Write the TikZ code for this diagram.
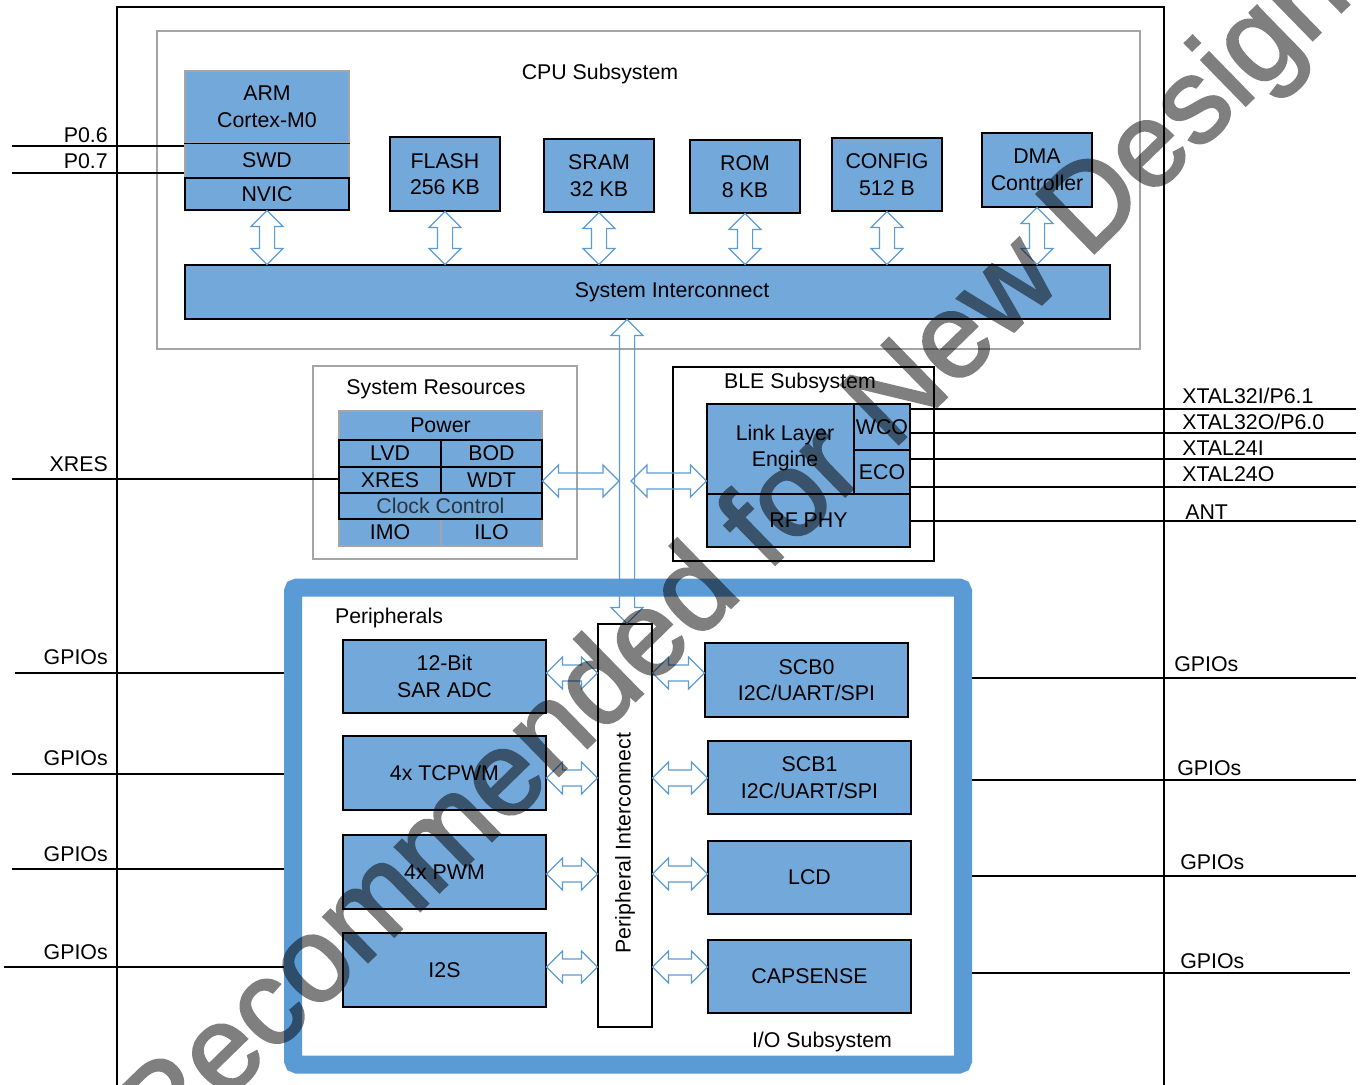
\documentclass[tikz,border=0pt]{standalone}
\usepackage{fontspec}
\setmainfont{Liberation Sans}
\newfontfamily\wmfont{Liberation Sans}[FakeBold=2]
\usetikzlibrary{fit,calc}
\definecolor{blkfill}{RGB}{115,168,218}
\definecolor{iofr}{RGB}{91,155,213}
\definecolor{arrc}{RGB}{91,155,213}
\definecolor{gbox}{RGB}{165,165,165}
\definecolor{dimtext}{RGB}{40,52,64}
\tikzset{
 lbl/.style={font=\fontsize{16}{20}\selectfont, align=center, inner sep=0},
 blkbox/.style={draw=black, line width=0.8pt, fill=blkfill, inner sep=0, font=\fontsize{16}{20}\selectfont, align=center},
 grpbox/.style={draw=gbox, line width=0.8pt, inner sep=0},
 wire/.style={draw=black, line width=0.9pt},
 hollowarr/.style={draw=arrc, line width=0.9pt, line join=miter},
}
% box from pixel corners (x1,y1)-(x2,y2)
\newcommand\bx[7]{\node[#1, minimum width={(#4-#2)*0.75pt}, minimum height={(#5-#3)*0.75pt}] (#6) at ({(#2+#4)/2},{(#3+#5)/2}) {#7};}
\newcommand\varr[2]{%
 \draw[hollowarr] let \p1=#1, \p2=#2 in
 (\x1,\y1) -- ({\x1+12pt},{\y1-12pt}) -- ({\x1+5.7pt},{\y1-12pt}) -- ({\x1+5.7pt},{\y2+12pt}) -- ({\x1+12pt},{\y2+12pt}) -- (\x1,\y2) -- ({\x1-12pt},{\y2+12pt}) -- ({\x1-5.7pt},{\y2+12pt}) -- ({\x1-5.7pt},{\y1-12pt}) -- ({\x1-12pt},{\y1-12pt}) -- cycle;}
\newcommand\harr[2]{%
 \draw[hollowarr] let \p1=#1, \p2=#2 in
 (\x1,\y1) -- ({\x1+12pt},{\y1+12pt}) -- ({\x1+12pt},{\y1+6pt}) -- ({\x2-12pt},{\y1+6pt}) -- ({\x2-12pt},{\y1+12pt}) -- (\x2,\y1) -- ({\x2-12pt},{\y1-12pt}) -- ({\x2-12pt},{\y1-6pt}) -- ({\x1+12pt},{\y1-6pt}) -- ({\x1+12pt},{\y1-12pt}) -- cycle;}
\begin{document}
\begin{tikzpicture}[x=0.75pt,y=-0.75pt]
\useasboundingbox (0,0) rectangle (1361,1085);
\clip (0,0) rectangle (1361,1085);
\fill[white] (0,0) rectangle (1361,1085);

% chip outline
\draw[line width=1.5pt] (117,1100) -- (117,7) -- (1164,7) -- (1164,1100);

% ---------------- CPU subsystem
\node[grpbox, fit={(157,31) (1140,349)}] (cpu) {};
\node[lbl] (cputitle) at (600,74) {CPU Subsystem};
\bx{blkbox, draw=gbox}{185}{71}{349}{143}{arm}{ARM\\Cortex-M0}
\bx{blkbox, draw=gbox}{185}{143}{349}{178}{swd}{SWD}
\bx{blkbox}{185}{178}{349}{210}{nvic}{NVIC}
\draw[line width=0.8pt] (arm.south west) -- (arm.south east);
\bx{blkbox}{390}{137}{500}{211}{flash}{FLASH\\256 KB}
\bx{blkbox}{544}{139}{654}{212}{sram}{SRAM\\32 KB}
\bx{blkbox}{690}{140}{800}{213}{rom}{ROM\\8 KB}
\bx{blkbox}{832}{138}{942}{211}{config}{CONFIG\\512 B}
\bx{blkbox}{982}{133}{1092}{207}{dma}{DMA\\Controller}
\bx{blkbox}{185}{265}{1110}{319}{si}{}
\node[lbl] (sitxt) at (672,292) {System Interconnect};

% pins P0.6 / P0.7
\coordinate (p06) at (12,146);
\coordinate (p07) at (12,173);
\draw[wire] (p06) -- (p06 -| arm.west);
\draw[wire] (p07) -- (p07 -| arm.west);
\node[lbl, anchor=east] (p06lbl) at (108,135) {P0.6};
\node[lbl, anchor=east] (p07lbl) at (108,161) {P0.7};

% ---------------- System resources
\node[grpbox, fit={(313,366) (577,559)}] (sysres) {};
\node[lbl] (srtitle) at (436,389) {System Resources};
\bx{blkbox, draw=gbox}{339}{519}{441}{546}{imo}{IMO}
\bx{blkbox, draw=gbox}{441}{519}{542}{546}{ilo}{ILO}
\bx{blkbox, draw=gbox}{339}{411}{542}{440}{power}{Power}
\bx{blkbox}{339}{440}{441}{467}{lvd}{LVD}
\bx{blkbox}{441}{440}{542}{467}{bod}{BOD}
\bx{blkbox}{339}{467}{441}{493}{xres}{XRES}
\bx{blkbox}{441}{467}{542}{493}{wdt}{WDT}
\bx{blkbox, text=dimtext}{339}{493}{542}{519}{clk}{Clock Control}
\coordinate (xresin) at (12,479);
\draw[wire] (xresin) -- (xresin -| xres.west);
\node[lbl, anchor=east] (xreslbl) at (108,464) {XRES};

% ---------------- BLE subsystem
\node[draw, line width=0.8pt, inner sep=0, fit={(673,367) (934,561)}] (ble) {};
\node[lbl] (bletitle) at (800,383) {BLE Subsystem};
\bx{blkbox}{707}{404}{854}{494}{lle}{}
\node[lbl] (lletxt) at (785,448) {Link Layer\\Engine};
\bx{blkbox}{854}{404}{910}{450}{wco}{WCO}
\bx{blkbox}{854}{450}{910}{494}{eco}{ECO}
\bx{blkbox}{707}{494}{910}{547}{rfphy}{RF PHY}
\coordinate (xt1) at (1356,409);
\coordinate (xt2) at (1356,433);
\coordinate (xt3) at (1356,459);
\coordinate (xt4) at (1356,487);
\coordinate (ant) at (1356,521);
\draw[wire] (xt1 -| wco.east) -- (xt1);
\draw[wire] (xt2 -| wco.east) -- (xt2);
\draw[wire] (xt3 -| eco.east) -- (xt3);
\draw[wire] (xt4 -| eco.east) -- (xt4);
\draw[wire] (ant -| rfphy.east) -- (ant);
\node[lbl, anchor=west] (xt1lbl) at (1182,396) {XTAL32I/P6.1};
\node[lbl, anchor=west] (xt2lbl) at (1182,422) {XTAL32O/P6.0};
\node[lbl, anchor=west] (xt3lbl) at (1182,448) {XTAL24I};
\node[lbl, anchor=west] (xt4lbl) at (1182,474) {XTAL24O};
\node[lbl, anchor=west] (antlbl) at (1185,512) {ANT};

% ---------------- I/O subsystem
\coordinate (gl1) at (15,673);
\coordinate (gl2) at (12,774);
\coordinate (gl3) at (12,869);
\coordinate (gl4) at (4,967);
\coordinate (gr1) at (1356,678);
\coordinate (gr2) at (1356,780);
\coordinate (gr3) at (1356,876);
\coordinate (gr4) at (1350,973);
\node[draw=iofr, line width=13.5pt, rounded corners=3pt, inner sep=0, fit={(293,587.5) (963,1064.5)}] (io) {};
\foreach \g in {gl1,gl2,gl3,gl4} \draw[wire] (\g) -- (\g -| io.west);
\foreach \g in {gr1,gr2,gr3,gr4} \draw[wire] (io.east |- \g) -- (\g);
\node[lbl, anchor=east] (gl1lbl) at (108,657) {GPIOs};
\node[lbl, anchor=east] (gl2lbl) at (108,758) {GPIOs};
\node[lbl, anchor=east] (gl3lbl) at (108,854) {GPIOs};
\node[lbl, anchor=east] (gl4lbl) at (108,952) {GPIOs};
\node[lbl, anchor=west] (gr1lbl) at (1174,664) {GPIOs};
\node[lbl, anchor=west] (gr2lbl) at (1177,768) {GPIOs};
\node[lbl, anchor=west] (gr3lbl) at (1180,862) {GPIOs};
\node[lbl, anchor=west] (gr4lbl) at (1180,961) {GPIOs};

\node[lbl] (periph) at (389,618) {Peripherals};
\node[lbl] (iotitle) at (822,1042) {I/O Subsystem};
\node[draw, line width=0.8pt, fill=white, inner sep=0, fit={(598,624) (652,1027)}] (pint) {};
\node[lbl, rotate=90] (pinttxt) at (625,843) {Peripheral Interconnect};

\bx{blkbox}{343}{640}{546}{713}{adc}{12-Bit\\SAR ADC}
\bx{blkbox}{343}{736}{546}{810}{tcpwm}{4x TCPWM}
\bx{blkbox}{343}{835}{546}{909}{pwm}{4x PWM}
\bx{blkbox}{343}{933}{546}{1007}{i2s}{I2S}
\bx{blkbox}{705}{643}{908}{717}{scb0}{SCB0\\I2C/UART/SPI}
\bx{blkbox}{708}{741}{911}{814}{scb1}{SCB1\\I2C/UART/SPI}
\bx{blkbox}{708}{841}{911}{914}{lcd}{LCD}
\bx{blkbox}{708}{940}{911}{1013}{caps}{CAPSENSE}

% ---------------- hollow bus arrows
\varr{(nvic.south)}{(nvic.south |- si.north)}
\varr{(flash.south)}{(flash.south |- si.north)}
\varr{(sram.south)}{(sram.south |- si.north)}
\varr{(rom.south)}{(rom.south |- si.north)}
\varr{(config.south)}{(config.south |- si.north)}
\varr{(dma.south)}{(dma.south |- si.north)}
\coordinate (busx) at (627,0);
\varr{(si.south -| busx)}{(pint.north -| busx)}
\coordinate (busL) at (619,481);
\coordinate (busR) at (631,481);
\harr{(wdt.east |- busL)}{(busL)}
\harr{(busR)}{(lle.west |- busR)}
\coordinate (ya) at (0,673);
\coordinate (yb) at (0,778);
\coordinate (yc) at (0,874);
\coordinate (yd) at (0,967);
\harr{(adc.east |- ya)}{(pint.west |- ya)}
\harr{(tcpwm.east |- yb)}{(pint.west |- yb)}
\harr{(pwm.east |- yc)}{(pint.west |- yc)}
\harr{(i2s.east |- yd)}{(pint.west |- yd)}
\harr{(pint.east |- ya)}{(scb0.west |- ya)}
\harr{(pint.east |- yb)}{(scb1.west |- yb)}
\harr{(pint.east |- yc)}{(lcd.west |- yc)}
\harr{(pint.east |- yd)}{(caps.west |- yd)}

% ---------------- watermark
\begin{scope}[transparency group, opacity=0.5]
\node[rotate=44.3, text=black, inner sep=0, font=\wmfont\fontsize{90}{90}\selectfont] (wm) at (758,538) {Recommended for New Designs};
\end{scope}
\end{tikzpicture}
\end{document}
